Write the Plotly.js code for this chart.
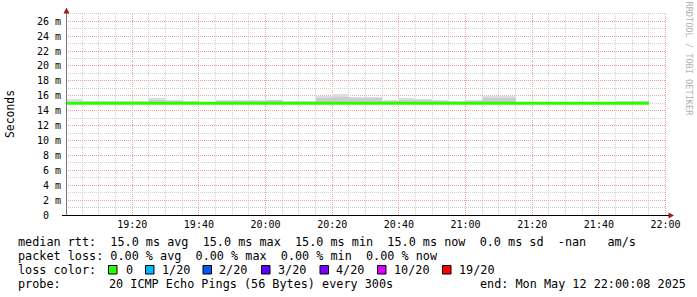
<!DOCTYPE html>
<html><head><meta charset="utf-8">
<script src="https://cdn.plot.ly/plotly-3.0.1.min.js"></script>
<style>html,body{margin:0;padding:0;background:#fff}#chart{width:697px;height:297px}</style>
</head><body><div id="chart"></div>
<script>
const DAY = '2025-05-12 ';
const times = ['19:00','19:05','19:10','19:15','19:20','19:25','19:30','19:35','19:40','19:45',
  '19:50','19:55','20:00','20:05','20:10','20:15','20:20','20:25','20:30','20:35',
  '20:40','20:45','20:50','20:55','21:00','21:05','21:10','21:15','21:20','21:25',
  '21:30','21:35','21:40','21:45','21:50'];
const endTime = '21:55';
const median = [15.0,15.0,15.0,15.0,15.0,15.0,15.0,15.0,15.0,15.0,
  15.0,15.0,15.0,15.0,15.0,15.0,15.0,15.0,15.0,15.0,
  15.0,15.0,15.0,15.0,15.0,15.0,15.0,15.0,15.0,15.0,
  15.0,15.0,15.0,15.0,15.0];
const pingMin = [15.0,15.0,15.0,15.0,15.0,15.0,15.0,15.0,15.0,15.0,
  15.0,15.0,15.0,15.0,15.0,15.0,15.0,15.0,15.0,15.0,
  15.0,15.0,15.0,15.0,15.0,15.0,15.0,15.0,15.0,15.0,
  15.0,15.0,15.0,15.0,15.0];
const smokeOuter = [15.61,15.30,15.30,15.30,15.30,15.74,15.48,15.30,15.15,15.48,
  15.48,15.48,15.48,15.30,15.30,15.97,16.24,15.88,15.84,15.48,
  15.66,15.57,15.48,15.34,15.48,15.97,15.93,15.0,15.0,15.0,
  15.0,15.0,15.0,15.34,15.34];
const smokeInner = [15.20,15.15,15.15,15.15,15.15,15.40,15.25,15.15,15.05,15.25,
  15.25,15.25,15.38,15.15,15.15,15.66,15.88,15.66,15.66,15.25,
  15.44,15.40,15.25,15.20,15.25,15.66,15.66,15.0,15.0,15.0,
  15.0,15.0,15.0,15.20,15.20];
const yTickVals = [0,2,4,6,8,10,12,14,16,18,20,22,24,26];
const yTickText = ['0\u00a0\u00a0','2 m','4 m','6 m','8 m','10 m','12 m','14 m','16 m','18 m','20 m','22 m','24 m','26 m'];
const xTickTimes = ['19:20','19:40','20:00','20:20','20:40','21:00','21:20','21:40','22:00'];
const xRangeT = ['19:00:08', '22:00:08'];
const yRange = [0, 27.11];

const legendLines = [
  'median rtt:  15.0 ms avg  15.0 ms max  15.0 ms min  15.0 ms now  0.0 ms sd  -nan   am/s',
  'packet loss: 0.00 % avg  0.00 % max  0.00 % min  0.00 % now'
];
const lossLabels = ['0','1/20','2/20','3/20','4/20','10/20','19/20'];
const lossColors = ['#26ff00','#00b8ff','#0059ff','#5e00ff','#7e00ff','#dd00ff','#ff0000'];
const probeText = '20 ICMP Echo Pings (56 Bytes) every 300s';
const endText = 'end: Mon May 12 22:00:08 2025';

// geometry (pixels)
const L = 66, T = 13, W = 600, H = 202;
const px = x => (x - L) / W;
const py = y => (T + H - y) / H;
const nb = s => s.replace(/ /g, '\u00a0');
const MONO = 'DejaVu Sans Mono';
const MAJOR = '#eda0a0', MINOR = '#cfcfcf';

const toMs = t => new Date('2025-05-12T' + (t.length === 5 ? t + ':00' : t) + 'Z').getTime();
const msStart = toMs(xRangeT[0]), msEnd = toMs(xRangeT[1]);
// crisp pixel position of a time / value on the axes, for grid lines
const xPix = ms => Math.floor(L + (ms - msStart) / (msEnd - msStart) * W) + 0.5;
const yPix = v => Math.floor(T + H - (v - yRange[0]) / (yRange[1] - yRange[0]) * H) + 0.5;

const shapes = [];
for (let k = 1; k <= 36; k++) {
  const ms = toMs('19:00') + k * 300000;
  if (ms > msEnd) break;
  const x = xPix(ms);
  shapes.push({type:'line', layer:'below', xref:'paper', yref:'paper', x0:px(x), x1:px(x), y0:0, y1:1,
    line:{color: k % 4 === 0 ? MAJOR : MINOR, width:1, dash:'1px,1px'}});
}
for (let v = 1; v <= 27; v++) {
  const y = yPix(v);
  shapes.push({type:'line', layer:'below', xref:'paper', yref:'paper', x0:0, x1:1, y0:py(y), y1:py(y),
    line:{color: v % 2 === 0 ? MAJOR : MINOR, width:1, dash:'1px,1px'}});
}

const tx = times.map(t => DAY + t);
const traces = [
  {type:'bar', x:tx, base:pingMin, y:smokeOuter.map((v,i)=>v-pingMin[i]), width:tx.map(()=>300000), offset:0,
   marker:{color:'#dedede', line:{width:0}}, hoverinfo:'skip'},
  {type:'bar', x:tx, base:pingMin, y:smokeInner.map((v,i)=>v-pingMin[i]), width:tx.map(()=>300000), offset:0,
   marker:{color:'#cdcdcd', line:{width:0}}, hoverinfo:'skip'},
  {type:'scatter', mode:'lines', x:tx.concat([DAY+endTime]), y:median.concat([median[median.length-1]]),
   line:{color:lossColors[0], width:3, shape:'hv'}, hoverinfo:'skip'}
];

const annotations = [];
function text(x, y, s, opts) {
  annotations.push(Object.assign({xref:'paper', yref:'paper', x:px(x), y:py(y), text:nb(s), showarrow:false,
    xanchor:'left', yanchor:'middle', font:{family:MONO, size:11.8, color:'#000'}}, opts||{}));
}
text(16, 242, legendLines[0]);
text(16, 256, legendLines[1]);
text(16, 270, 'loss color:');
const boxX = [108.5, 145.5, 203, 261.5, 320, 377.5, 442.5];
const labX = [124, 160, 217, 276, 334, 392, 456.5];
lossLabels.forEach((lab, i) => {
  shapes.push({type:'rect', xref:'paper', yref:'paper', x0:px(boxX[i]), x1:px(boxX[i]+8.5), y0:py(274), y1:py(265.5),
    fillcolor:lossColors[i], line:{color:'#000', width:1}});
  text(labX[i], 270, lab);
});
text(16, 284, 'probe:');
text(107, 284, probeText);
text(478, 284, endText);
annotations.push({xref:'paper', yref:'paper', x:px(10), y:py(114), text:'Seconds', textangle:-90, showarrow:false,
  xanchor:'center', yanchor:'middle', font:{family:MONO, size:11.4, color:'#000'}});
annotations.push({xref:'paper', yref:'paper', x:px(688.5), y:py(59), text:nb('RRDTOOL / TOBI OETIKER'), textangle:90, showarrow:false,
  xanchor:'center', yanchor:'middle', font:{family:MONO, size:8.6, color:'#b4b4b4'}});

// axis lines and arrows
shapes.push({type:'line', xref:'paper', yref:'paper', x0:px(66.5), x1:px(66.5), y0:py(215), y1:py(10), line:{color:'#777', width:1}});
shapes.push({type:'line', xref:'paper', yref:'paper', x0:px(62), x1:px(669), y0:py(215.5), y1:py(215.5), line:{color:'#000', width:1}});
shapes.push({type:'path', xref:'paper', yref:'paper',
  path:`M ${px(668.5)} ${py(212.5)} L ${px(674)} ${py(215.5)} L ${px(668.5)} ${py(218.5)} Z`, fillcolor:'#9b1c1c', line:{width:0}});
shapes.push({type:'path', xref:'paper', yref:'paper',
  path:`M ${px(63.5)} ${py(13.5)} L ${px(66.5)} ${py(7.5)} L ${px(69.5)} ${py(13.5)} Z`, fillcolor:'#9b1c1c', line:{width:0}});

const layout = {
  width:697, height:297, autosize:false,
  margin:{l:L, r:697-L-W, t:T, b:297-T-H, pad:0},
  paper_bgcolor:'#fff', plot_bgcolor:'#fff',
  showlegend:false, barmode:'overlay', bargap:0,
  xaxis:{type:'date', range:xRangeT.map(t=>DAY+t), tickmode:'array', tickvals:xTickTimes.map(t=>DAY+t), ticktext:xTickTimes,
    showgrid:false, ticks:'', showline:false, zeroline:false, ticklabelstandoff:2,
    tickfont:{family:MONO, size:10, color:'#000'}, fixedrange:true},
  yaxis:{range:yRange, tickmode:'array', tickvals:yTickVals, ticktext:yTickText,
    showgrid:false, ticks:'', showline:false, zeroline:false, ticklabelstandoff:4,
    tickfont:{family:MONO, size:10, color:'#000'}, fixedrange:true},
  annotations, shapes
};
Plotly.newPlot('chart', traces, layout, {staticPlot:true, displayModeBar:false});
</script></body></html>
